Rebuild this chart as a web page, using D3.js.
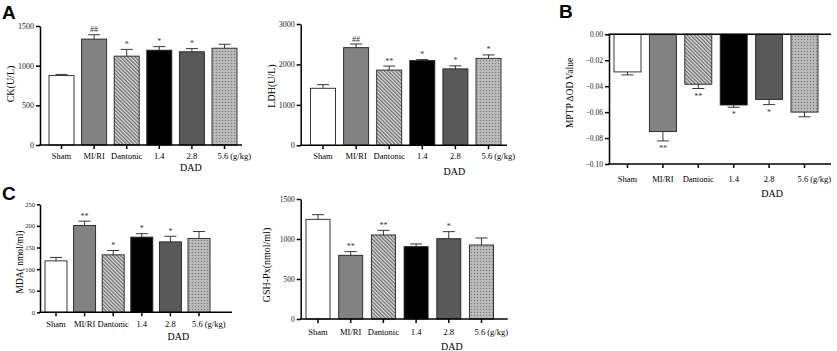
<!DOCTYPE html>
<html>
<head>
<meta charset="utf-8">
<script src="https://cdn.jsdelivr.net/npm/d3@7"></script>
<style>
  body { margin: 0; background: #fff; }
  text { font-family: "Liberation Serif", "DejaVu Serif", serif; fill: #000; }
</style>
</head>
<body>
<script>
// data
var categories = ["Sham", "MI/RI", "Dantonic", "1.4", "2.8", "5.6"];

var ckMean = [875, 1335, 1120, 1195, 1175, 1220];
var ckErr  = [15, 55, 85, 45, 40, 50];
var ckSig  = ["", "##", "*", "*", "*", ""];
var ckTicks = [0, 500, 1000, 1500];

var ldhMean = [1410, 2415, 1860, 2095, 1890, 2150];
var ldhErr  = [90, 90, 100, 25, 75, 85];
var ldhSig  = ["", "##", "**", "*", "*", "*"];
var ldhTicks = [0, 1000, 2000, 3000];

var mptpMean = [-0.029, -0.075, -0.0385, -0.0545, -0.0502, -0.0600];
var mptpErr  = [0.0023, 0.0072, 0.0033, 0.0018, 0.0040, 0.0036];
var mptpSig  = ["", "**", "**", "*", "*", ""];
var mptpTicks = [0, -0.02, -0.04, -0.06, -0.08, -0.10];

var mdaMean = [119, 201, 133, 174, 163, 171];
var mdaErr  = [8, 10, 10, 8, 13, 16];
var mdaSig  = ["", "**", "*", "*", "*", ""];
var mdaTicks = [0, 50, 100, 150, 200, 250];

var gshMean = [1246, 796, 1050, 904, 1004, 925];
var gshErr  = [58, 46, 58, 34, 88, 88];
var gshSig  = ["", "**", "**", "", "*", ""];
var gshTicks = [0, 500, 1000, 1500];

var svg = d3.select("body").append("svg")
  .attr("width", 837)
  .attr("height", 351);

// fill patterns for the bars
var defs = svg.append("defs");

var hatch = defs.append("pattern")
  .attr("id", "hatch")
  .attr("patternUnits", "userSpaceOnUse")
  .attr("width", 2.6).attr("height", 2.6)
  .attr("patternTransform", "rotate(-45)");
hatch.append("rect").attr("width", 2.6).attr("height", 2.6).attr("fill", "#dcdcdc");
hatch.append("rect").attr("width", 1.3).attr("height", 2.6).attr("fill", "#707070");

var dots = defs.append("pattern")
  .attr("id", "dots")
  .attr("patternUnits", "userSpaceOnUse")
  .attr("width", 3).attr("height", 3);
dots.append("rect").attr("width", 3).attr("height", 3).attr("fill", "#b4b4b4");
dots.append("rect").attr("width", 1).attr("height", 1).attr("fill", "#7a7a7a");
dots.append("rect").attr("x", 1.5).attr("y", 1.5).attr("width", 1).attr("height", 1).attr("fill", "#d6d6d6");

var barFills = ["#ffffff", "#828282", "url(#hatch)", "#000000", "#595959", "url(#dots)"];

// one bar panel
function drawPanel(conf) {
  var g = svg.append("g");

  var x = d3.scalePoint()
    .domain(categories)
    .range([conf.c0, conf.c5]);

  var y = d3.scaleLinear()
    .domain(conf.domain)
    .range([conf.yLow, conf.yHigh]);

  var base = y(0);
  var neg = conf.domain[1] <= 0;

  // bars
  g.selectAll("rect.bar")
    .data(conf.mean)
    .enter().append("rect")
    .attr("class", "bar")
    .attr("x", (d, i) => x(categories[i]) - conf.bw / 2)
    .attr("y", d => Math.min(y(d), base))
    .attr("width", conf.bw)
    .attr("height", d => Math.abs(y(d) - base))
    .attr("fill", (d, i) => barFills[i])
    .attr("stroke", "#222")
    .attr("stroke-width", 0.9);

  // error bars
  conf.mean.forEach(function (m, i) {
    var cx = x(categories[i]);
    var tip = neg ? m - conf.err[i] : m + conf.err[i];
    g.append("line")
      .attr("x1", cx).attr("x2", cx)
      .attr("y1", y(m)).attr("y2", y(tip))
      .attr("stroke", "#222").attr("stroke-width", 0.9);
    g.append("line")
      .attr("x1", cx - 6).attr("x2", cx + 6)
      .attr("y1", y(tip)).attr("y2", y(tip))
      .attr("stroke", "#222").attr("stroke-width", 0.9);
    if (conf.sig[i]) {
      g.append("text")
        .attr("x", cx)
        .attr("y", neg ? y(tip) + 10 : y(tip) - 2.5)
        .attr("text-anchor", "middle")
        .style("font-size", "8px")
        .style("fill", "#333")
        .text(conf.sig[i]);
    }
  });

  // y axis
  var yAxis = d3.axisLeft(y)
    .tickValues(conf.ticks)
    .tickSize(conf.tick)
    .tickSizeOuter(0)
    .tickPadding(2)
    .tickFormat(conf.fmt);
  var ya = g.append("g")
    .attr("transform", `translate(${conf.axisX},0)`)
    .attr("font-family", "Liberation Serif")
    .call(yAxis);
  ya.selectAll("line, path").attr("stroke", "#000").attr("stroke-width", 1.5);
  ya.selectAll("text")
    .style("font-size", conf.tickSize)
    .style("fill", "#222");

  // x axis line at the bottom of the value range
  var yb = conf.yLow;
  g.append("line")
    .attr("x1", conf.axisX - 0.75).attr("x2", conf.axisEnd)
    .attr("y1", yb).attr("y2", yb)
    .attr("stroke", "#000").attr("stroke-width", 1.5);
  if (neg) {
    // zero line on top for negative bars
    g.append("line")
      .attr("x1", conf.axisX - 0.75).attr("x2", conf.axisEnd)
      .attr("y1", base).attr("y2", base)
      .attr("stroke", "#000").attr("stroke-width", 1.5);
  }
  g.selectAll("line.xtick")
    .data(categories)
    .enter().append("line")
    .attr("class", "xtick")
    .attr("x1", d => x(d)).attr("x2", d => x(d))
    .attr("y1", yb).attr("y2", yb + 4)
    .attr("stroke", "#000").attr("stroke-width", 1.5);

  // category labels
  g.selectAll("text.cat")
    .data(categories)
    .enter().append("text")
    .attr("class", "cat")
    .attr("x", (d, i) => i == 5 ? x(d) - 7 : x(d))
    .attr("y", conf.labY)
    .attr("text-anchor", (d, i) => i == 5 ? "start" : "middle")
    .style("font-size", "8.5px")
    .text((d, i) => i == 5 ? d + " (g/kg)" : d);

  g.append("text")
    .attr("x", x(categories[4]) + conf.dadDx)
    .attr("y", conf.dadY)
    .attr("text-anchor", "middle")
    .style("font-size", "10px")
    .text("DAD");

  // y title
  g.append("text")
    .attr("transform", `translate(${conf.titleX},${conf.titleY}) rotate(-90)`)
    .attr("text-anchor", "middle")
    .style("font-size", conf.titleSize)
    .text(conf.title);
}

var fmtInt = d3.format("d");

drawPanel({ mean: ckMean, err: ckErr, sig: ckSig, ticks: ckTicks, fmt: fmtInt,
  domain: [0, 1500], yLow: 145, yHigh: 26, axisX: 40, axisEnd: 242,
  c0: 61.5, c5: 224.5, bw: 25, labY: 158.5, dadY: 170.5, dadDx: -1, tickSize: "8px", tick: 4,
  title: "CK(U/L)", titleX: 13.5, titleY: 84, titleSize: "10px" });

drawPanel({ mean: ldhMean, err: ldhErr, sig: ldhSig, ticks: ldhTicks, fmt: fmtInt,
  domain: [0, 3000], yLow: 145.3, yHigh: 24, axisX: 300.7, axisEnd: 507,
  c0: 323, c5: 488.5, bw: 25, labY: 159, dadY: 175, dadDx: -1, tickSize: "8px", tick: 4,
  title: "LDH(U/L)", titleX: 275, titleY: 86, titleSize: "10px" });

drawPanel({ mean: mptpMean, err: mptpErr, sig: mptpSig, ticks: mptpTicks, fmt: d3.format(".2f"),
  domain: [-0.10, 0], yLow: 164, yHigh: 34.3, axisX: 609, axisEnd: 831,
  c0: 627.5, c5: 804.5, bw: 27, labY: 182, dadY: 197, dadDx: 3, tickSize: "7.5px", tick: 4,
  title: "MPTP \u2206OD Value", titleX: 573, titleY: 93, titleSize: "9.5px" });

drawPanel({ mean: mdaMean, err: mdaErr, sig: mdaSig, ticks: mdaTicks, fmt: fmtInt,
  domain: [0, 250], yLow: 312.3, yHigh: 204.3, axisX: 40, axisEnd: 232,
  c0: 56, c5: 199, bw: 22, labY: 327, dadY: 340, dadDx: 8, tickSize: "6.5px", tick: 3,
  title: "MDA( nmol/ml)", titleX: 23, titleY: 262, titleSize: "9.5px" });

drawPanel({ mean: gshMean, err: gshErr, sig: gshSig, ticks: gshTicks, fmt: fmtInt,
  domain: [0, 1500], yLow: 319, yHigh: 199, axisX: 300.7, axisEnd: 507.7,
  c0: 318, c5: 481.5, bw: 24, labY: 335, dadY: 350, dadDx: 3, tickSize: "7.5px", tick: 4,
  title: "GSH-Px(nmol/ml)", titleX: 270, titleY: 265, titleSize: "10px" });

// panel letters
var letters = [["A", 2, 19], ["B", 559, 18], ["C", 2, 200]];
svg.selectAll("text.letter")
  .data(letters)
  .enter().append("text")
  .attr("class", "letter")
  .attr("x", d => d[1])
  .attr("y", d => d[2])
  .style("font-family", "Liberation Sans, Arial, sans-serif")
  .style("font-weight", "bold")
  .style("font-size", "19px")
  .text(d => d[0]);
</script>
</body>
</html>
